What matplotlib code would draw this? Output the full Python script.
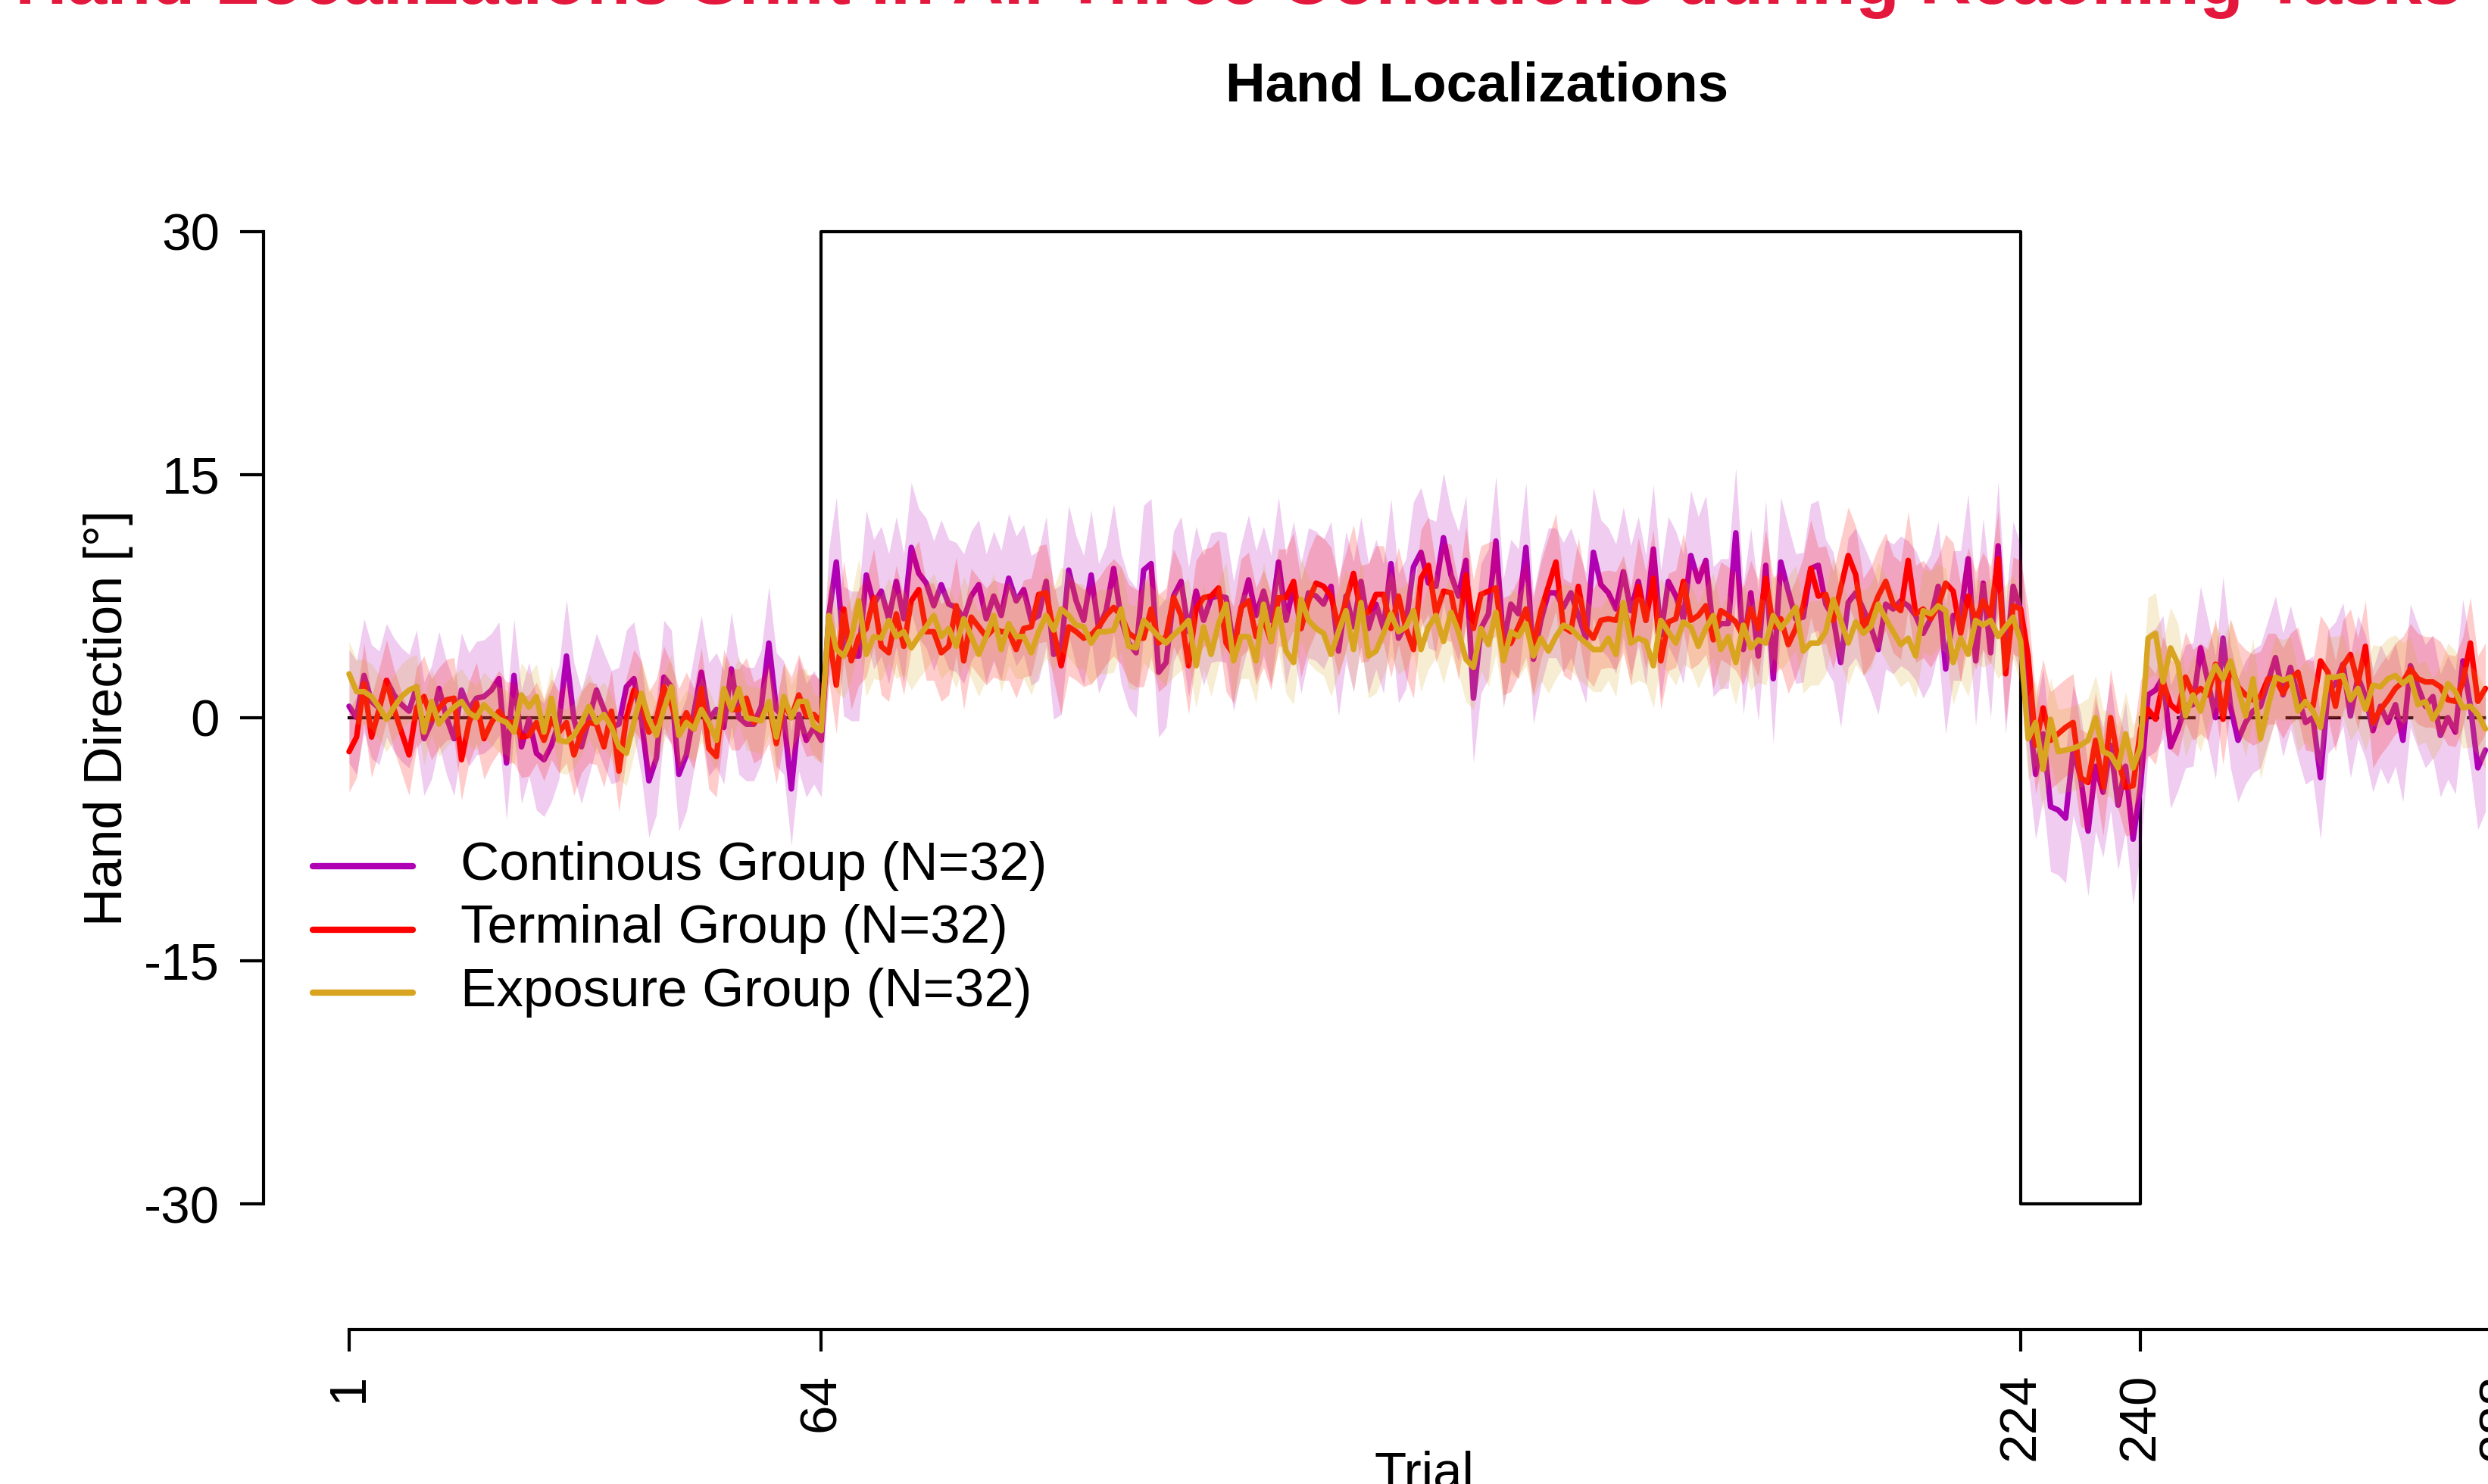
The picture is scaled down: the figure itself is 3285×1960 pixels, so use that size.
import numpy as np
import matplotlib
matplotlib.use("Agg")
import matplotlib.pyplot as plt
from matplotlib.lines import Line2D

plt.rcParams['font.family'] = ['Liberation Sans', 'DejaVu Sans']

# ---------------- data ----------------
trials = np.arange(1, 287)

continuous = [
    0.7, 0.0, 2.6, 1.0, 0.6, 2.3, 1.4, 0.8, 0.4, 1.9, -1.3, -0.3, 1.8, 0.0, -1.3, 1.7, 0.5, 1.2, 1.3, 1.7,
    2.4, -2.8, 2.6, -1.8, -0.1, -2.2, -2.6, -1.7, -0.3, 3.8, -0.1, -1.8, -0.1, 1.7, 0.5, -0.6, -0.4, 1.9, 2.4, -0.1,
    -3.9, -2.5, 2.5, 1.9, -3.5, -2.3, 0.3, 2.8,
    -0.1, 0.5, -0.6, 3.0, 0.0, -0.4, -0.4, 0.7, 4.6, 0.5, 0.0, -4.4, 0.2, -1.4, -0.6, -1.4,
    6.3, 9.6, 4.1, 3.8, 3.8, 8.8, 7.0, 7.8, 6.1, 8.4, 6.1, 10.5, 8.9, 8.3, 6.9, 8.2, 7.0, 6.8, 6.1, 7.5,
    8.2, 6.1, 7.5, 6.3, 8.6, 7.2, 7.9, 6.0, 6.3, 8.4, 3.9, 4.2,
    9.1, 7.2, 6.0, 8.8, 5.5, 6.6, 9.2, 6.1, 4.6, 4.0, 9.1, 9.5, 2.8, 3.4, 7.5, 8.4, 5.3, 7.8, 6.0, 7.4,
    7.5, 7.4, 4.4, 6.7, 8.5, 6.3, 7.8, 6.0, 9.6, 6.0, 8.1, 5.5, 7.7, 7.5, 7.0, 8.1, 4.1, 7.5, 5.6, 8.4,
    5.5, 7.0, 5.5, 9.5, 4.9, 5.8, 9.3,
    10.2, 8.3, 8.1, 11.1, 8.8, 7.5, 9.7, 1.2, 5.5, 6.4, 10.9, 4.6, 7.0, 6.4, 10.5, 3.6, 6.0, 7.7, 7.7, 6.8,
    7.7, 6.3, 4.9, 10.2, 8.2, 7.7, 6.7, 9.0, 6.6, 8.4, 6.0, 10.4, 5.1, 8.4, 7.5, 6.1, 10.0, 8.4, 9.7, 5.3,
    5.8, 5.8, 11.4, 4.2, 7.7, 3.8, 9.4, 2.4,
    9.6, 7.8, 6.1, 6.2, 9.2, 9.4, 7.0, 6.2, 3.4, 7.1, 7.7, 6.7, 5.6, 4.2, 7.0, 6.7, 7.2, 6.9, 6.3, 5.2,
    6.1, 8.1, 3.0, 6.3, 6.3, 9.8, 3.5, 8.3, 4.0, 10.6, 3.0, 8.1, 6.6, 0.8, -3.5, -1.0, -5.5, -5.7, -6.2, -2.0,
    -3.7, -7.0, -3.0, -4.6, -1.7, -5.4, -3.0,
    -7.5, -4.2, 1.4, 1.7, 2.5, -1.8, -0.7, 0.7, 0.8, 4.3, 2.2, 0.0, 4.9, 0.7, -1.4, -0.3, 0.4, 0.7, 2.2, 3.7,
    1.4, 3.1, 1.3, -0.3, 0.0, -3.7, 1.6, 2.1, 3.3, 0.1, 2.5, 1.3, -0.8, 0.7, -0.3, 0.8, -1.4, 3.2, 1.9, 0.7,
    1.3, -1.1, 0.0, -0.9, 3.5, 0.7, -3.1, -2.0,
]

terminal = [
    -2.1, -1.2, 2.1, -1.2, 0.5, 2.3, 0.5, -0.9, -2.3, 0.6, 1.3, -0.1, 0.6, 1.1, 1.2, -2.6, -0.3, 0.9, -1.3, -0.3,
    0.4, -0.3, -0.3, -1.2, -1.1, -0.3, -1.4, -0.1, -0.9, -0.3, -2.3, -0.9, -0.3, -0.4, -1.8, 0.4, -3.3, 0.0, 1.7, 1.0,
    -0.9, -0.1, 1.9, 0.8, -0.7, 0.3, -0.7, 1.8,
    -1.9, -2.4, 1.7, 0.5, 0.5, 1.2, -0.3, 0.0, 0.9, -1.6, 0.9, 0.0, 1.4, 0.1, 0.2, -0.3,
    5.3, 2.0, 6.7, 3.5, 5.0, 5.5, 7.4, 4.4, 4.0, 6.4, 4.4, 7.2, 7.9, 5.3, 5.3, 4.0, 4.4, 6.9, 3.5, 6.2,
    5.6, 5.0, 5.5, 5.3, 5.3, 4.2, 5.5, 5.6, 7.6, 7.7, 5.3, 3.2,
    5.6, 5.3, 4.9, 5.1, 5.6, 6.3, 6.8, 6.3, 5.2, 4.9, 4.9, 6.7, 4.6, 5.0, 7.4, 6.3, 3.2, 6.7, 7.4, 7.5,
    8.0, 4.6, 3.9, 6.8, 7.2, 5.0, 6.1, 4.7, 7.4, 7.4, 8.4, 5.5, 7.2, 8.3, 8.1, 7.5, 5.6, 7.2, 8.9, 6.4,
    6.5, 7.6, 7.6, 5.5, 7.5, 5.5, 4.2,
    8.6, 9.4, 6.4, 7.8, 7.7, 5.3, 8.8, 5.5, 7.6, 7.8, 8.0, 4.4, 4.6, 5.6, 6.7, 4.4, 6.6, 8.1, 9.6, 5.6,
    5.3, 8.1, 5.5, 4.9, 6.0, 6.1, 6.0, 7.0, 5.0, 8.1, 6.0, 8.6, 3.5, 5.9, 6.1, 8.4, 6.0, 6.3, 6.9, 4.8,
    6.6, 6.3, 5.9, 5.0, 6.7, 5.5, 8.6, 5.6,
    6.1, 4.5, 5.5, 6.9, 9.2, 7.5, 7.6, 6.0, 8.0, 10.0, 8.8, 5.6, 6.3, 7.5, 8.4, 7.0, 6.6, 9.7, 6.4, 6.7,
    6.1, 6.9, 8.3, 7.8, 5.2, 7.5, 6.0, 7.2, 6.3, 9.8, 2.7, 6.9, 6.7, 3.8, -1.7, 0.6, -1.4, -1.0, -0.6, -0.3,
    -3.7, -4.0, -1.4, -4.3, 0.0, -2.6, -4.3,
    -4.2, -0.7, 0.5, -0.1, 2.2, 0.8, 0.4, 2.5, 1.4, 1.8, 1.4, 3.3, -0.1, 3.3, 1.9, 1.4, 1.1, 1.3, 2.4, 2.4,
    1.5, 2.4, 2.8, 0.8, 0.7, 3.5, 2.8, 0.7, 3.2, 3.9, 2.1, 4.4, -0.3, 0.5, 1.1, 1.8, 2.2, 3.0, 2.4, 2.2,
    2.2, 1.9, 1.1, 1.0, 2.2, 4.6, 1.0, 1.8,
]

exposure = [
    2.7, 1.6, 1.6, 1.3, 0.65, -0.1, 0.65, 1.3, 1.7, 1.9, -0.9, 1.0, -0.4, 0.2, 0.65, 1.0, 0.3, 0.0, 0.8, 0.3,
    -0.1, -0.3, -0.9, 1.4, 0.65, 1.3, -0.9, 1.2, -1.4, -1.5, -1.1, -0.3, 0.7, -0.3, 0.2, -0.6, -1.8, -2.2, -0.3, 1.5,
    -0.1, -1.1, 0.5, 1.9, -1.1, -0.3, -0.7, 0.5,
    -0.3, -1.4, 1.8, 0.5, 1.8, 0.0, -0.1, -0.2, 1.0, -1.2, 1.3, 0.0, 1.0, 1.0, -0.5, -0.8,
    6.3, 4.2, 3.8, 4.9, 7.2, 3.9, 5.0, 4.9, 6.0, 5.0, 5.3, 4.3, 5.0, 5.6, 6.3, 5.0, 5.5, 4.4, 6.1, 5.0,
    3.9, 5.0, 6.3, 4.2, 5.8, 5.0, 5.0, 4.0, 5.3, 6.3, 5.4, 6.7,
    6.3, 5.7, 5.6, 4.6, 5.3, 5.3, 5.4, 6.7, 4.4, 4.3, 6.0, 5.5, 5.0, 4.6, 5.1, 5.5, 6.0, 3.2, 5.6, 3.9,
    5.8, 7.0, 3.5, 5.0, 5.0, 3.5, 7.0, 4.7, 6.7, 4.1, 3.4, 7.3, 6.0, 5.5, 5.2, 3.9, 5.3, 6.6, 4.2, 7.1,
    3.8, 4.1, 5.2, 6.4, 5.3, 5.6, 6.6,
    4.2, 5.6, 6.3, 4.7, 6.5, 5.3, 3.6, 3.1, 5.5, 4.5, 6.5, 3.5, 5.3, 5.0, 5.8, 3.8, 4.9, 4.1, 5.0, 5.7,
    5.5, 5.0, 4.6, 4.2, 4.2, 4.9, 3.9, 7.1, 4.6, 4.9, 4.7, 3.2, 6.0, 5.3, 4.6, 5.9, 5.6, 4.4, 5.5, 6.3,
    4.2, 5.0, 3.4, 5.7, 4.3, 4.8, 4.6, 6.3,
    5.5, 6.1, 6.8, 4.1, 4.6, 4.6, 5.3, 7.3, 6.0, 4.6, 5.9, 5.2, 5.6, 7.0, 6.1, 5.3, 4.5, 4.9, 3.8, 6.6,
    6.4, 6.9, 6.6, 3.4, 4.9, 3.9, 6.0, 5.7, 6.0, 5.0, 5.6, 6.2, 4.7, -1.3, -0.3, -3.2, -0.1, -2.1, -2.0, -1.9,
    -1.7, -1.4, 0.0, -2.1, -2.3, -3.1, -1.0,
    -3.1, -1.8, 4.9, 5.2, 2.2, 4.3, 3.3, 0.1, 1.4, 0.4, 2.1, 3.2, 2.4, 3.5, 1.8, 0.1, 2.4, -1.3, 0.7, 2.5,
    2.3, 2.5, 0.4, 1.0, 0.4, -0.6, 2.5, 2.5, 2.6, 1.1, 1.8, 0.5, 2.0, 1.9, 2.4, 2.6, 2.1, 2.5, 0.8, 1.0,
    -0.1, 0.7, 2.1, 1.6, 0.6, 0.7, 0.2, -0.7,
]

# confidence-interval half widths per phase (aligned / rotated / reversed / clamped)
phase_lengths = [64, 160, 16, 46]
ci_continuous = [3.5, 4.0, 4.0, 3.8]
ci_terminal = [2.5, 3.0, 3.0, 2.8]
ci_exposure = [2.0, 2.6, 2.6, 2.5]

# perturbation schedule
schedule_trials = [1, 64, 64, 224, 224, 240, 240]
schedule_rotation = [0, 0, 30, 30, -30, -30, 0]
clamp_trials = [240, 288]
clamp_rotation = [0, 0]

labels = ['Continous Group (N=32)', 'Terminal Group (N=32)', 'Exposure Group (N=32)']
colors = ['#B000B4', '#FF0000', '#D9A520']

xticks = [1, 64, 224, 240, 288]
yticks = [-30, -15, 0, 15, 30]
ytick_labels = ['-30', '-15', '0', '15', '30']

# ---------------- figure ----------------
W, H, DPI = 3285, 1960, 300
fig = plt.figure(figsize=(W / DPI, H / DPI), dpi=DPI)
FS = 16.6


def px_to_trial(p):
    return 1 + (p - 460.9) / 9.897


def py_to_val(p):
    return (947.8 - p) / 21.41


left_px, right_px, bot_px, top_px = 348, 3400, 1756, 250
ax = fig.add_axes([left_px / W, 1 - bot_px / H, (right_px - left_px) / W, (bot_px - top_px) / H])
ax.set_xlim(px_to_trial(left_px), px_to_trial(right_px))
ax.set_ylim(py_to_val(bot_px), py_to_val(top_px))

ax.plot(schedule_trials, schedule_rotation, color='black', lw=1.0, zorder=1)
ax.plot(clamp_trials, clamp_rotation, color='black', lw=1.0, linestyle=(0, (6, 5.5)), zorder=1)

series = [continuous, terminal, exposure]
cis = [ci_continuous, ci_terminal, ci_exposure]
z = 2
for vals, ci, col in zip(series, cis, colors):
    v = np.asarray(vals)
    hw = np.repeat(ci, phase_lengths)
    ax.fill_between(trials, v - hw, v + hw, color=col, alpha=0.2, lw=0, zorder=z)
    ax.plot(trials, v, color=col, lw=1.75, solid_joinstyle='round', solid_capstyle='round', zorder=z + 1)
    z += 2

for s in ['top', 'right']:
    ax.spines[s].set_visible(False)
ax.spines['left'].set_bounds(-30, 30)
ax.spines['bottom'].set_bounds(1, 288)
ax.spines['left'].set_linewidth(1.0)
ax.spines['bottom'].set_linewidth(1.0)

ax.set_yticks(yticks)
ax.set_yticklabels(ytick_labels)
ax.set_xticks(xticks)
ax.set_xticklabels([str(t) for t in xticks], rotation=90)
ax.tick_params(axis='y', length=7.4, width=1.0, pad=6.5, labelsize=FS)
ax.tick_params(axis='x', length=7.0, width=1.0, pad=6.9, labelsize=FS)

# legend
for i, (lab, col) in enumerate(zip(labels, colors)):
    yy = 1 - (1144 + i * 83.5) / H
    fig.add_artist(Line2D([413 / W, 545 / W], [yy, yy], color=col, lw=2.0, solid_capstyle='round'))
    fig.text(608 / W, yy, lab, ha='left', va='center', fontsize=17.0)

# texts
fig.text(1950 / W, 1 - 134 / H, 'Hand Localizations', ha='center', va='baseline',
         fontsize=17.5, fontweight='bold')
fig.text(143 / W, 1 - 947.8 / H, 'Hand Direction [°]', rotation=90, ha='center', va='center', fontsize=16.8)
fig.text(1880 / W, 1 - 1915 / H, 'Trial', ha='center', va='top', fontsize=FS)
fig.text(20 / W, 1 - 5 / H, 'Hand Localizations Shift in All Three Conditions during Reaching Tasks',
         ha='left', va='baseline', fontsize=22.8, fontweight='bold', color='#E4183C')

fig.savefig('out.png', dpi=DPI)
